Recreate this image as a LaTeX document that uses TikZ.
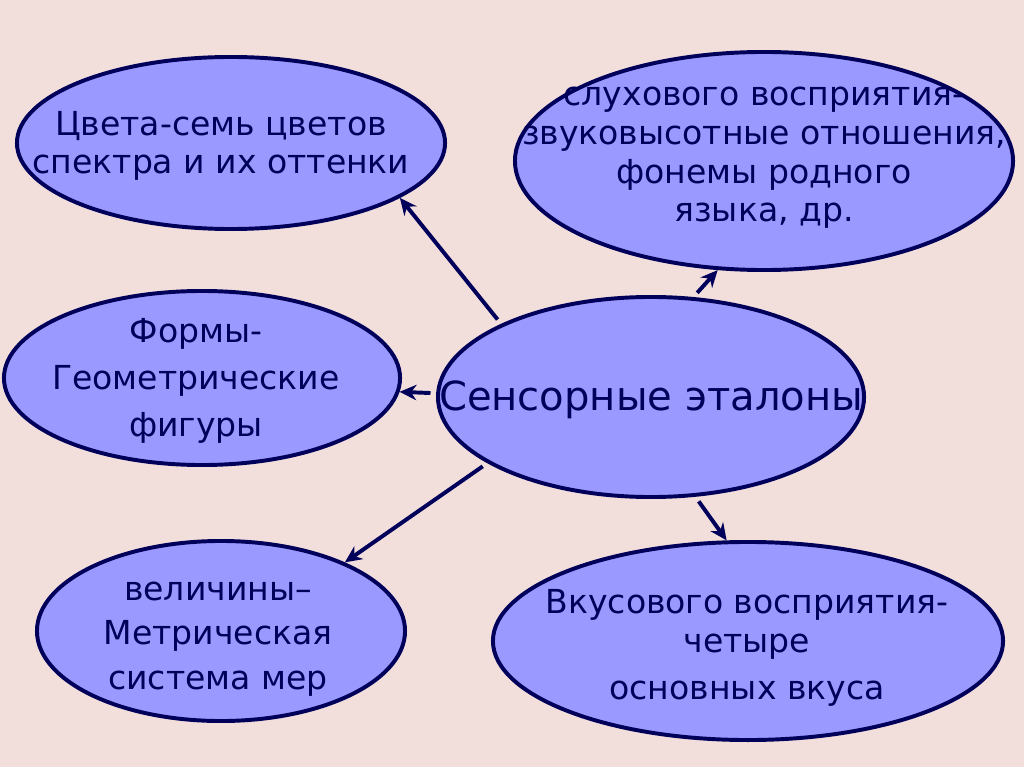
\documentclass[tikz,border=0pt]{standalone}
\usepackage{fontspec}
\setmainfont{DejaVu Sans}
\usetikzlibrary{shapes.geometric,arrows.meta}
\definecolor{bgpink}{RGB}{242,222,219}
\definecolor{ovalblue}{RGB}{153,153,255}
\definecolor{navy}{RGB}{0,0,90}
\tikzset{
  oval/.style={ellipse, draw=navy, line width=2.8pt, fill=ovalblue, inner sep=0pt},
  txt/.style={align=center, text=navy, inner sep=0pt, font=\fontsize{23.5}{27.5}\selectfont},
  link/.style={-{Stealth[length=12pt,width=11pt]}, draw=navy, line width=2.8pt, shorten <=4pt}
}
\begin{document}
\begin{tikzpicture}[x=0.025cm,y=-0.025cm]
\fill[bgpink] (0,0) rectangle (1024,767);
\useasboundingbox (0,0) rectangle (1024,767);
\node[oval, minimum width=10.7cm, minimum height=4.3cm] (cveta) at (231,143) {};
\node[oval, minimum width=12.45cm, minimum height=5.45cm] (sluh) at (764,161) {};
\node[oval, minimum width=9.9cm, minimum height=4.35cm] (formy) at (202,378) {};
\node[oval, minimum width=10.65cm, minimum height=5cm] (etalon) at (651,397) {};
\node[oval, minimum width=9.2cm, minimum height=4.5cm] (velich) at (221,631) {};
\node[oval, minimum width=12.75cm, minimum height=4.95cm] (vkus) at (748,641) {};
\node[txt] (cvetat) at (221,146) {Цвета-семь цветов\\спектра и их оттенки};
\node[txt] (sluht) at (764,158) {слухового восприятия-\\звуковысотные отношения,\\фонемы родного\\языка, др.};
\node[txt] (formyt) at (196,381) {Формы-\\[6pt]Геометрические\\[6pt]фигуры};
\node[txt, font=\fontsize{28.5}{32}\selectfont] (etalont) at (651,400) {Сенсорные эталоны};
\node[txt] (velicht) at (218,639) {величины–\\[4pt]Метрическая\\[4pt]система мер};
\node[txt] (vkust) at (747,648) {Вкусового восприятия-\\четыре\\[6pt]основных вкуса};
\draw[link] (etalon.154) -- (cveta.342);
\draw[link] (etalon.67) -- (sluh.247);
\draw[link] (etalon.179) -- (formy.356);
\draw[link] (etalon.202) -- (velich.29);
\draw[link] (etalon.294) -- (vkus.102);
\end{tikzpicture}
\end{document}
